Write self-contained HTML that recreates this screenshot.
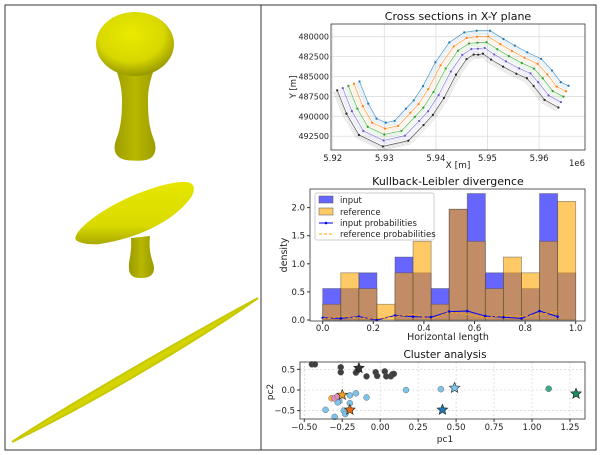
<!DOCTYPE html>
<html><head><meta charset="utf-8">
<style>
body{margin:0;background:#fff;width:600px;height:455px;overflow:hidden}
svg{display:block;font-family:"DejaVu Sans","Liberation Sans",sans-serif}
</style></head>
<body>
<svg id="root" width="600" height="455" viewBox="0 0 600 455">
<defs>
<radialGradient id="bulb" cx="0.45" cy="0.35" r="0.7"><stop offset="0" stop-color="#eaea00"/><stop offset="0.6" stop-color="#d8d800"/><stop offset="1" stop-color="#8a8a00"/></radialGradient>
<linearGradient id="stem" x1="0" y1="0" x2="1" y2="0"><stop offset="0" stop-color="#9a9a00"/><stop offset="0.5" stop-color="#b8b800"/><stop offset="1" stop-color="#9a9a00"/></linearGradient>
<linearGradient id="disc" x1="0" y1="0" x2="0" y2="1"><stop offset="0" stop-color="#e6e600"/><stop offset="0.7" stop-color="#dada00"/><stop offset="1" stop-color="#a8a800"/></linearGradient>
</defs>
<rect x="5" y="5" width="591" height="445" fill="none" stroke="#333" stroke-width="1"/>
<line x1="261" y1="5" x2="261" y2="450" stroke="#333"/>
<g>
 <g>
  <path d="M112,58 C118,75 122,85 122,100 C122,120 120,130 116,140 C113,148 114,158 126,160 C132,161 140,161 146,160 C156,158 157,148 154,140 C150,130 148,120 148,100 C148,85 152,75 158,58 Z" fill="url(#stem)"/>
  <ellipse cx="135" cy="44" rx="39" ry="32" fill="url(#bulb)"/>
 </g>
 <g>
  <path d="M131,238 C132,255 128,262 129,268 C129,276 134,278 141,278 C148,278 154,276 154,268 C154,262 148,255 150,236 Z" fill="url(#stem)"/>
  <path d="M76,240 C70,232 110,200 160,186 C190,178 198,182 192,196 C180,214 150,236 100,244 C88,245 79,243 76,240 Z" fill="url(#disc)"/>
 </g>
 <path d="M12,442 C60,410 180,340 258,298 C230,318 120,390 12,442 Z" fill="#d4d400" stroke="#c8c800" stroke-width="2"/>
</g>
<g id="c1"></g>
<g id="c2"></g>
<g id="c3"></g>
</svg>
<script>
const NS="http://www.w3.org/2000/svg";
function mk(p,t,a,txt){const e=document.createElementNS(NS,t);for(const k in a)e.setAttribute(k,a[k]);if(txt!==undefined)e.textContent=txt;p.appendChild(e);return e;}

// ---------- chart 1 data ----------
const xsX=[5.9252,5.9269,5.9285,5.9303,5.9320,5.9342,5.9357,5.9375,5.9399,5.9426,5.9455,5.9479,5.9505,5.9531,5.9553,5.9577,5.9604,5.9625,5.9642,5.9657];
const xsY=[485625,488410,490290,490790,490580,489040,488000,486210,483210,480710,479460,479250,479250,480290,481125,481960,482790,484250,485710,486160];
const xsColors=["#1f77b4","#ff7f0e","#2ca02c","#6a5acd","#222222"];
const xsXTicks=[5.92,5.93,5.94,5.95,5.96];
const xsYTicks=[480000,482500,485000,487500,490000,492500];
// ---------- chart 2 data ----------
const klInput=[0.56,0.56,0.84,0,1.12,0.84,0.56,1.97,2.25,0.84,0.84,0.56,2.25,0.84];
const klRef=[0.28,0.84,0.56,0.28,0.84,1.40,0.28,1.97,1.40,0.56,1.12,0.84,1.40,2.11];
const klInputProb=[0.04,0.03,0.06,0,0.08,0.06,0.05,0.15,0.16,0.07,0.05,0.03,0.16,0.06];
const klRefProb=[0.02,0.06,0.04,0.02,0.06,0.10,0.02,0.14,0.10,0.04,0.08,0.06,0.10,0.15];
const klXTicks=[0,0.2,0.4,0.6,0.8,1.0];
const klYTicks=[0,0.5,1.0,1.5,2.0];
// ---------- chart 3 data ----------
const clX=[-0.45,-0.43,-0.26,-0.26,-0.16,-0.15,-0.09,-0.03,-0.02,0.03,0.04,0.07,0.08,0.09,0.17,0.40,-0.36,-0.30,-0.24,-0.23,-0.20,-0.20,-0.16,-0.09,-0.27,-0.28,1.11,-0.32,-0.30,-0.28];
const clY=[0.62,0.62,0.55,0.43,0.42,0.47,0.33,0.43,0.34,0.45,0.33,0.33,0.38,0.39,0.0,0.02,-0.48,-0.65,-0.5,-0.58,-0.32,-0.13,-0.08,-0.18,-0.27,-0.30,0.03,-0.2,-0.2,-0.15];
const clGroup=[0,0,0,0,0,0,0,0,0,0,0,0,0,0,1,1,1,1,1,1,1,1,1,1,1,1,2,3,4,4];
const starX=[-0.14,0.49,0.41,1.29,-0.25,-0.20];
const starY=[0.53,0.05,-0.48,-0.09,-0.12,-0.48];
const starColors=["#333333","#7ec8ef","#1f77b4","#1a8a5a","#f0a020","#e86a10"];
const clColors=["#404040","#7ec4ea","#3aaa8a","#f5b040","#e090c0"];
const clXTicks=[-0.5,-0.25,0,0.25,0.5,0.75,1.0,1.25];
const clYTicks=[-0.5,0,0.5];

function axesFrame(g,x0,y0,x1,y1){
  mk(g,"rect",{x:x0,y:y0,width:x1-x0,height:y1-y0,fill:"none",stroke:"#333","stroke-width":0.8});
}
// ===== chart 1 =====
(function(){
 const g=document.getElementById("c1");
 const X0=331,X1=585,Y0=24,Y1=150;
 const sx=v=>332.7+(v-5.92)*5160, sy=v=>36.7+(v-480000)/125.6;
 mk(g,"rect",{x:X0,y:Y0,width:X1-X0,height:Y1-Y0,fill:"#fff"});
 xsXTicks.forEach(t=>{const x=sx(t);mk(g,"line",{x1:x,x2:x,y1:Y0,y2:Y1,stroke:"#ddd","stroke-width":0.8});
  const l=mk(g,"text",{x:x,y:Y1+11,"font-size":8.5,"text-anchor":"middle",fill:"#222"},t.toFixed(2));
  
  });
 xsYTicks.forEach(t=>{const y=sy(t);mk(g,"line",{x1:X0,x2:X1,y1:y,y2:y,stroke:"#ddd","stroke-width":0.8});
  const l=mk(g,"text",{x:X0-2,y:y+3,"font-size":8,"text-anchor":"end",fill:"#222"},String(t));
  
  });
 const px=xsX.map(sx), py=xsY.map(sy);
 const nx=[],ny=[];
 for(let i=0;i<px.length;i++){const a=Math.max(0,i-1),b=Math.min(px.length-1,i+1);let dx=px[b]-px[a],dy=py[b]-py[a];const L=Math.hypot(dx,dy)||1;let ux=-dy/L,uy=dx/L;if(uy<0){ux=-ux;uy=-uy;}nx.push(ux);ny.push(uy);}
 for(let s=xsColors.length-1;s>=0;s--){
  for(let k=3;k>=0;k--){
   const off=s*6+k*1.3;
   const pts=px.map((x,i)=>(x+nx[i]*off).toFixed(1)+","+(py[i]+ny[i]*off).toFixed(1)).join(" ");
   const pl=mk(g,"polyline",{points:pts,fill:"none",stroke:xsColors[s],"stroke-width":k==0?0.8:0.5,opacity:k==0?0.7:0.25});
   
   
   if(k==0){px.forEach((x,i)=>{const c=mk(g,"circle",{cx:x+nx[i]*off,cy:py[i]+ny[i]*off,r:1.1,fill:xsColors[s]});
    
    });}
  }
 }
 axesFrame(g,X0,Y0,X1,Y1);
 mk(g,"text",{x:458,y:20,"font-size":11,"text-anchor":"middle",fill:"#111",},"Cross sections in X-Y plane");
 mk(g,"text",{x:458,y:168,"font-size":9,"text-anchor":"middle",fill:"#222",},"X [m]");
 mk(g,"text",{x:585,y:166,"font-size":8.5,"text-anchor":"end",fill:"#222",},"1e6");
 mk(g,"text",{x:0,y:0,"font-size":8.5,"text-anchor":"middle",fill:"#222",transform:"translate(296,87) rotate(-90)",},"Y [m]");
})();
// ===== chart 2 =====
(function(){
 const g=document.getElementById("c2");
 const X0=310,X1=585,Y0=189,Y1=321;
 const sx=v=>322.7+v*253, sy=v=>320-v*56.2;
 const w=1/klInput.length;
 mk(g,"rect",{x:X0,y:Y0,width:X1-X0,height:Y1-Y0,fill:"#fff"});
 klInput.forEach((v,i)=>{const r=mk(g,"rect",{x:sx(i*w),y:sy(v),width:sx((i+1)*w)-sx(i*w),height:sy(0)-sy(v),fill:"#0000ff","fill-opacity":0.6,stroke:"#444","stroke-opacity":0.5,"stroke-width":0.8});
  
  });
 klRef.forEach((v,i)=>{const r=mk(g,"rect",{x:sx(i*w),y:sy(v),width:sx((i+1)*w)-sx(i*w),height:sy(0)-sy(v),fill:"#ffa500","fill-opacity":0.6,stroke:"#444","stroke-opacity":0.5,"stroke-width":0.8});
  
  });
 const ip=klInputProb.map((v,i)=>sx(i*w)+","+sy(v)).join(" ");
 const il=mk(g,"polyline",{points:ip,fill:"none",stroke:"#0000ee","stroke-width":1});
 
 
 klInputProb.forEach((v,i)=>{const c=mk(g,"circle",{cx:sx(i*w),cy:sy(v),r:1.3,fill:"#0000ee"});
  
  });
 const rp=klRefProb.map((v,i)=>sx(i*w)+","+sy(v)).join(" ");
 const rl=mk(g,"polyline",{points:rp,fill:"none",stroke:"#ffa500","stroke-width":1,"stroke-dasharray":"3,2"});
 
 
 klXTicks.forEach(t=>{const x=sx(t);mk(g,"line",{x1:x,x2:x,y1:Y1,y2:Y1+3,stroke:"#333"});
  const l=mk(g,"text",{x:x,y:Y1+10,"font-size":8.5,"text-anchor":"middle",fill:"#222"},t.toFixed(1));
  
  });
 klYTicks.forEach(t=>{const y=sy(t);mk(g,"line",{x1:X0-3,x2:X0,y1:y,y2:y,stroke:"#333"});
  const l=mk(g,"text",{x:X0-5,y:y+3,"font-size":8.5,"text-anchor":"end",fill:"#222"},t.toFixed(1));
  
  });
 axesFrame(g,X0,Y0,X1,Y1);
 const lg=mk(g,"g",{});
 mk(lg,"rect",{x:315,y:193,width:119,height:47,rx:2,fill:"#fff","fill-opacity":0.85,stroke:"#ccc"});
 mk(lg,"rect",{x:319,y:196,width:14,height:7,fill:"#0000ff","fill-opacity":0.6,stroke:"#555","stroke-width":0.5});
 mk(lg,"text",{x:340,y:203,"font-size":8.5,fill:"#222"},"input");
 mk(lg,"rect",{x:319,y:208,width:14,height:7,fill:"#ffa500","fill-opacity":0.6,stroke:"#555","stroke-width":0.5});
 mk(lg,"text",{x:340,y:215,"font-size":8.5,fill:"#222"},"reference");
 mk(lg,"line",{x1:319,x2:333,y1:223,y2:223,stroke:"#0000ee"});
 mk(lg,"circle",{cx:326,cy:223,r:1.3,fill:"#0000ee"});
 mk(lg,"text",{x:340,y:226,"font-size":8.5,fill:"#222"},"input probabilities");
 mk(lg,"line",{x1:319,x2:333,y1:234,y2:234,stroke:"#ffa500","stroke-dasharray":"3,2"});
 mk(lg,"text",{x:340,y:237,"font-size":8.5,fill:"#222"},"reference probabilities");
 mk(g,"text",{x:448,y:185,"font-size":11,"text-anchor":"middle",fill:"#111",},"Kullback-Leibler divergence");
 mk(g,"text",{x:448,y:340,"font-size":9.5,"text-anchor":"middle",fill:"#222",},"Horizontal length");
 mk(g,"text",{x:0,y:0,"font-size":9.5,"text-anchor":"middle",fill:"#222",transform:"translate(287,255) rotate(-90)",},"density");
})();
// ===== chart 3 =====
(function(){
 const g=document.getElementById("c3");
 const X0=300,X1=585,Y0=362,Y1=419;
 const sx=v=>304.3+(v+0.5)*151.8, sy=v=>390-v*41.3;
 mk(g,"rect",{x:X0,y:Y0,width:X1-X0,height:Y1-Y0,fill:"#fff"});
 clXTicks.forEach(t=>{const x=sx(t);mk(g,"line",{x1:x,x2:x,y1:Y0,y2:Y1,stroke:"#ccc","stroke-width":0.6,"stroke-dasharray":"2,2"});
  mk(g,"line",{x1:x,x2:x,y1:Y1,y2:Y1+3,stroke:"#333"});
  const l=mk(g,"text",{x:x,y:Y1+11,"font-size":8.5,"text-anchor":"middle",fill:"#222"},t.toFixed(2).replace("-","\u2212"));
  
  });
 clYTicks.forEach(t=>{const y=sy(t);mk(g,"line",{x1:X0,x2:X1,y1:y,y2:y,stroke:"#ccc","stroke-width":0.6,"stroke-dasharray":"2,2"});
  mk(g,"line",{x1:X0-3,x2:X0,y1:y,y2:y,stroke:"#333"});
  const l=mk(g,"text",{x:X0-5,y:y+3,"font-size":8.5,"text-anchor":"end",fill:"#222"},t.toFixed(1).replace("-","\u2212"));
  
  });
 clX.forEach((v,i)=>{const c=mk(g,"circle",{cx:sx(v),cy:sy(clY[i]),r:3,fill:clColors[clGroup[i]],stroke:"#555","stroke-width":0.4});
  
  });
 function star(cx,cy,r){let p=[];for(let k=0;k<10;k++){const a=-Math.PI/2+k*Math.PI/5,rr=k%2?r*0.45:r;p.push((cx+rr*Math.cos(a)).toFixed(1)+","+(cy+rr*Math.sin(a)).toFixed(1));}return p.join(" ");}
 starX.forEach((v,i)=>{const s=mk(g,"polygon",{points:star(sx(v),sy(starY[i]),5.5),fill:starColors[i],stroke:"#222","stroke-width":0.6});
  
  });
 axesFrame(g,X0,Y0,X1,Y1);
 mk(g,"text",{x:445,y:358,"font-size":10.5,"text-anchor":"middle",fill:"#111",},"Cluster analysis");
 mk(g,"text",{x:445,y:442,"font-size":9,"text-anchor":"middle",fill:"#222",},"pc1");
 mk(g,"text",{x:0,y:0,"font-size":9,"text-anchor":"middle",fill:"#222",transform:"translate(273,392) rotate(-90)",},"pc2");
})();
</script>
</body></html>
